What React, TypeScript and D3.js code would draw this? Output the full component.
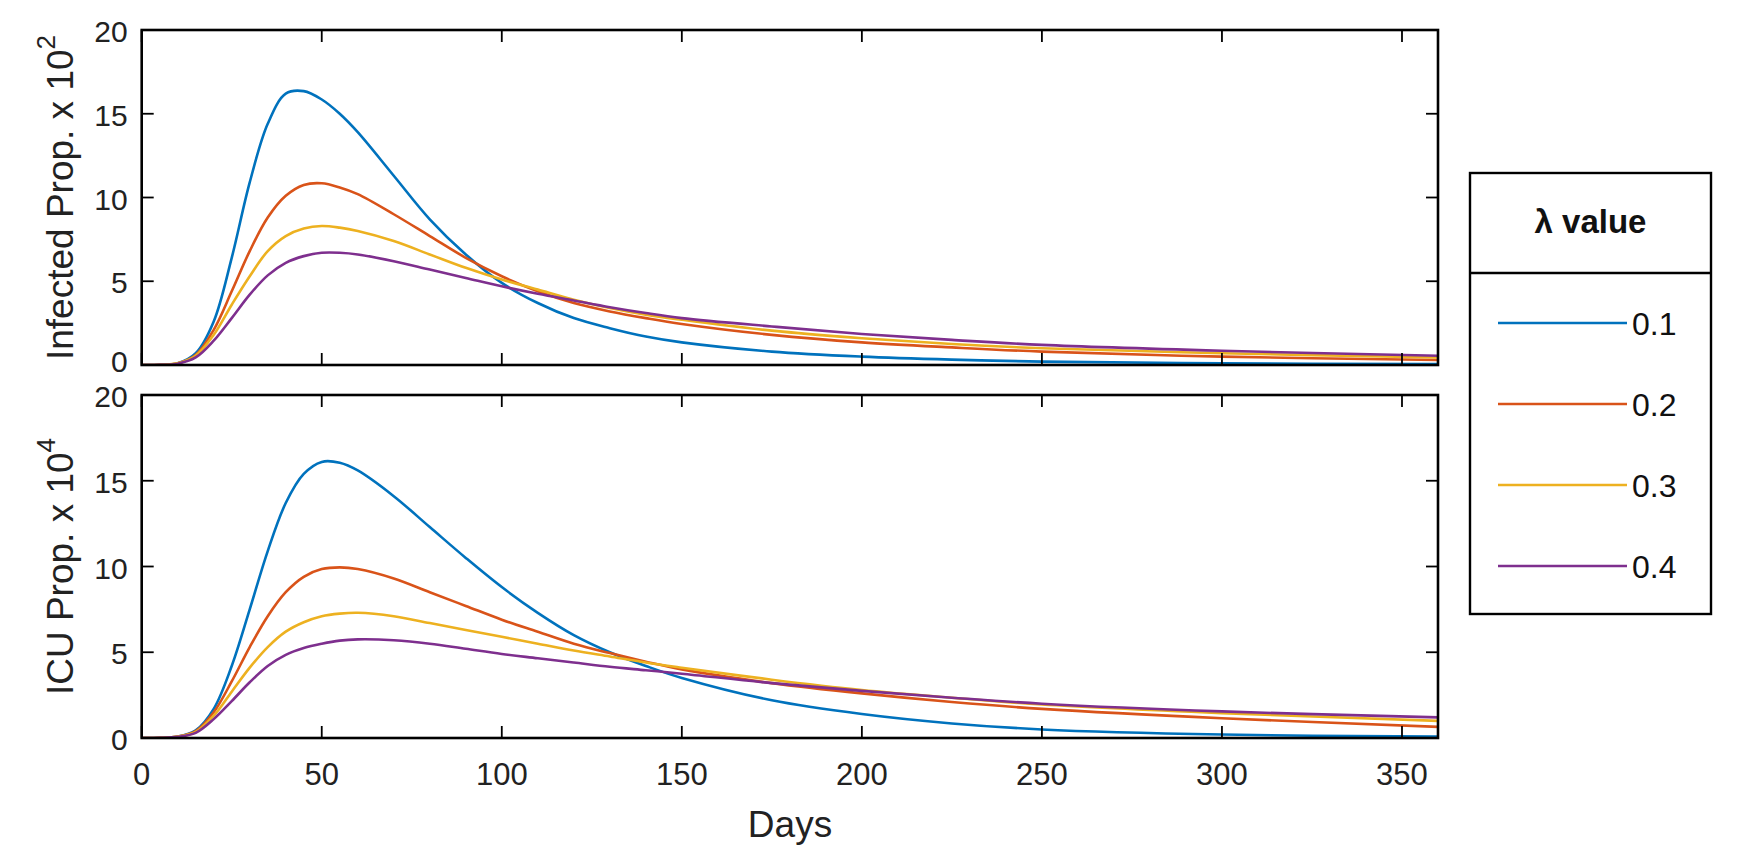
import * as d3 from 'd3';

const days = [0, 5, 10, 15, 20, 25, 30, 35, 40, 45, 50, 55, 60, 70, 80, 90, 100, 110, 120, 130, 140, 150, 175, 200, 225, 250, 300, 360];

const lambdaLabels = ['0.1', '0.2', '0.3', '0.4'];
const seriesColors = ['#0072BD', '#D95319', '#EDB120', '#7E2F8E'];

// Infected proportion x 10^2
const infected01 = [0, 0.01, 0.1, 0.7, 2.6, 6.4, 10.9, 14.4, 16.2, 16.35, 15.85, 15.0, 13.9, 11.3, 8.7, 6.6, 4.9, 3.7, 2.8, 2.2, 1.7, 1.35, 0.8, 0.5, 0.32, 0.2, 0.1, 0.05];
const infected02 = [0, 0.01, 0.1, 0.6, 2.1, 4.4, 6.8, 8.8, 10.1, 10.75, 10.85, 10.6, 10.2, 9.0, 7.7, 6.4, 5.3, 4.4, 3.7, 3.2, 2.8, 2.45, 1.8, 1.35, 1.05, 0.8, 0.5, 0.3];
const infected03 = [0, 0.01, 0.1, 0.55, 1.8, 3.6, 5.3, 6.8, 7.7, 8.15, 8.3, 8.2, 8.0, 7.4, 6.6, 5.8, 5.1, 4.5, 3.9, 3.4, 3.0, 2.7, 2.05, 1.6, 1.25, 1.0, 0.7, 0.45];
const infected04 = [0, 0.01, 0.08, 0.45, 1.45, 2.8, 4.2, 5.35, 6.1, 6.5, 6.7, 6.7, 6.6, 6.2, 5.7, 5.2, 4.7, 4.25, 3.85, 3.45, 3.1, 2.8, 2.3, 1.85, 1.5, 1.2, 0.85, 0.55];

// ICU proportion x 10^4
const icu01 = [0, 0.01, 0.08, 0.45, 1.7, 4.2, 7.5, 10.9, 13.7, 15.4, 16.1, 16.05, 15.6, 14.1, 12.3, 10.5, 8.8, 7.3, 6.0, 5.0, 4.2, 3.5, 2.2, 1.4, 0.85, 0.5, 0.2, 0.08];
const icu02 = [0, 0.01, 0.08, 0.4, 1.5, 3.3, 5.3, 7.1, 8.5, 9.4, 9.85, 9.95, 9.85, 9.3, 8.5, 7.7, 6.9, 6.2, 5.5, 4.95, 4.45, 4.0, 3.2, 2.6, 2.1, 1.7, 1.15, 0.65];
const icu03 = [0, 0.01, 0.08, 0.35, 1.3, 2.7, 4.1, 5.3, 6.2, 6.75, 7.1, 7.25, 7.3, 7.1, 6.7, 6.3, 5.9, 5.5, 5.1, 4.75, 4.4, 4.1, 3.4, 2.8, 2.35, 1.95, 1.45, 1.0];
const icu04 = [0, 0.01, 0.07, 0.3, 1.1, 2.15, 3.25, 4.2, 4.85, 5.25, 5.5, 5.68, 5.75, 5.7, 5.5, 5.2, 4.9, 4.65, 4.4, 4.15, 3.95, 3.75, 3.2, 2.75, 2.35, 2.0, 1.55, 1.2];

const xTicks = [0, 50, 100, 150, 200, 250, 300, 350];
const yTicks = [0, 5, 10, 15, 20];

const FONT = '"Liberation Sans", Arial, Helvetica, sans-serif';
const TEXT = '#222';

const xScale = d3.scaleLinear().domain([0, 360]).range([141.7, 1438]);

type PanelProps = {
  id: string;
  top: number;
  bottom: number;
  series: number[][];
  labelMain: string;
  labelExp: string;
  showXLabels: boolean;
};

function Panel({ id, top, bottom, series, labelMain, labelExp, showXLabels }: PanelProps) {
  const yScale = d3.scaleLinear().domain([0, 20]).range([bottom, top]);
  const [x0, x1] = xScale.range();
  const line = d3
    .line<number>()
    .x((_, i) => xScale(days[i]))
    .y((v) => yScale(v))
    .curve(d3.curveCatmullRom.alpha(0.5));
  const tick = 12;
  const midY = (top + bottom) / 2;

  return (
    <g>
      <defs>
        <clipPath id={`clip-${id}`}>
          <rect x={x0} y={top} width={x1 - x0} height={bottom - top} />
        </clipPath>
      </defs>
      <g clipPath={`url(#clip-${id})`}>
        {series.map((vals, i) => (
          <path key={i} d={line(vals) ?? ''} fill="none" stroke={seriesColors[i]} strokeWidth={2.6} />
        ))}
      </g>
      {xTicks.map((t) => (
        <g key={`xt${t}`}>
          <line x1={xScale(t)} x2={xScale(t)} y1={bottom} y2={bottom - tick} stroke="#000" strokeWidth={1.8} />
          <line x1={xScale(t)} x2={xScale(t)} y1={top} y2={top + tick} stroke="#000" strokeWidth={1.8} />
          {showXLabels && (
            <text x={xScale(t)} y={bottom + 47} textAnchor="middle" fontSize={31} fontFamily={FONT} fill={TEXT}>
              {t}
            </text>
          )}
        </g>
      ))}
      {yTicks.map((t) => (
        <g key={`yt${t}`}>
          <line x1={x0} x2={x0 + tick} y1={yScale(t)} y2={yScale(t)} stroke="#000" strokeWidth={1.8} />
          <line x1={x1} x2={x1 - tick} y1={yScale(t)} y2={yScale(t)} stroke="#000" strokeWidth={1.8} />
          <text
            x={x0 - 14}
            y={yScale(t) + (t === 0 && !showXLabels ? 7 : 12)}
            textAnchor="end"
            fontSize={30}
            fontFamily={FONT}
            fill={TEXT}
          >
            {t}
          </text>
        </g>
      ))}
      <rect x={x0} y={top} width={x1 - x0} height={bottom - top} fill="none" stroke="#000" strokeWidth={2.6} />
      <text
        transform={`translate(73,${midY}) rotate(-90)`}
        textAnchor="middle"
        fontSize={37}
        fontFamily={FONT}
        fill={TEXT}
      >
        {labelMain}
        <tspan dy={-18} fontSize={26}>
          {labelExp}
        </tspan>
      </text>
    </g>
  );
}

export default function App() {
  const legend = { left: 1470, right: 1711, top: 173, divider: 273, bottom: 614 };
  const legendRowY = lambdaLabels.map((_, i) => 323 + 81 * i);

  return (
    <svg width={1747} height={853} style={{ position: 'absolute', left: 0, top: 0, background: '#fff' }}>
      <rect x={0} y={0} width={1747} height={853} fill="#fff" />
      <Panel
        id="inf"
        top={30}
        bottom={365}
        series={[infected01, infected02, infected03, infected04]}
        labelMain="Infected Prop. x 10"
        labelExp="2"
        showXLabels={false}
      />
      <Panel
        id="icu"
        top={395}
        bottom={738}
        series={[icu01, icu02, icu03, icu04]}
        labelMain="ICU Prop. x 10"
        labelExp="4"
        showXLabels={true}
      />
      <text x={790} y={837} textAnchor="middle" fontSize={37} fontFamily={FONT} fill={TEXT}>
        Days
      </text>

      <g>
        <rect
          x={legend.left}
          y={legend.top}
          width={legend.right - legend.left}
          height={legend.bottom - legend.top}
          fill="#fff"
          stroke="#000"
          strokeWidth={2.4}
        />
        <line x1={legend.left} x2={legend.right} y1={legend.divider} y2={legend.divider} stroke="#000" strokeWidth={2.4} />
        <text
          x={(legend.left + legend.right) / 2}
          y={233}
          textAnchor="middle"
          fontSize={33}
          fontWeight="bold"
          fontFamily={FONT}
          fill="#111"
        >
          λ value
        </text>
        {lambdaLabels.map((lab, i) => (
          <g key={lab}>
            <line x1={1498} x2={1627} y1={legendRowY[i]} y2={legendRowY[i]} stroke={seriesColors[i]} strokeWidth={2.6} />
            <text x={1632} y={legendRowY[i] + 12} fontSize={32} fontFamily={FONT} fill="#111">
              {lab}
            </text>
          </g>
        ))}
      </g>
    </svg>
  );
}
